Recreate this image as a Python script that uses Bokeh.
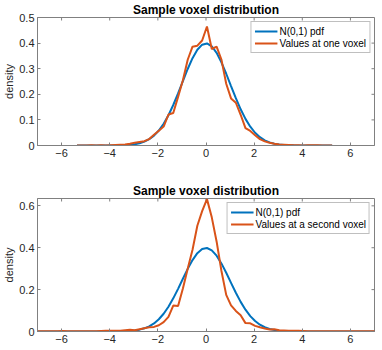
from bokeh.plotting import figure
from bokeh.layouts import column
from bokeh.models import FixedTicker, Legend, LegendItem
from bokeh.embed import file_html
from bokeh.resources import INLINE

# bin centres (shared grid)
x_all = [-7.16, -6.96, -6.76, -6.56, -6.36, -6.16, -5.96, -5.76, -5.56,
         -5.36, -5.16, -4.96, -4.76, -4.56, -4.36, -4.16, -3.96, -3.76, -3.56,
         -3.36, -3.16, -2.96, -2.76, -2.56, -2.36, -2.16, -1.96, -1.76, -1.56,
         -1.36, -1.16, -0.96, -0.76, -0.56, -0.36, -0.16, 0.04, 0.24, 0.44,
         0.64, 0.84, 1.04, 1.24, 1.44, 1.64, 1.84, 2.04, 2.24, 2.44, 2.64,
         2.84, 3.04, 3.24, 3.44, 3.64, 3.84, 4.04, 4.24, 4.44, 4.64, 4.84,
         5.04, 5.24, 5.44, 5.64, 5.84, 6.04, 6.24, 6.44, 6.64, 6.84, 7.04, 7.24]

# N(0,1) pdf read at the bin centres
pdf_all = [0.0, 0.0, 0.0, 0.0, 0.0, 0.0, 0.0, 0.0, 0.0,
           0.0, 0.0, 0.0, 0.0, 0.0, 0.0, 0.0001, 0.0002, 0.0003, 0.0007,
           0.0014, 0.0027, 0.0050, 0.0088, 0.0151, 0.0246, 0.0387, 0.0584, 0.0848, 0.1182,
           0.1582, 0.2036, 0.2516, 0.2989, 0.3411, 0.3739, 0.3939, 0.3986, 0.3876, 0.3621,
           0.3251, 0.2803, 0.2323, 0.1850, 0.1415, 0.1040, 0.0734, 0.0498, 0.0325, 0.0203, 0.0122,
           0.0071, 0.0039, 0.0021, 0.0011, 0.0005, 0.0003, 0.0001, 0.0, 0.0, 0.0, 0.0,
           0.0, 0.0, 0.0, 0.0, 0.0, 0.0, 0.0, 0.0, 0.0, 0.0, 0.0, 0.0]

# top panel: one voxel (bins -5.36 .. 5.24)
voxel1 = [0.000, 0.000, 0.000, 0.001, 0.000, 0.001, 0.000, 0.001, 0.002, 0.003,
          0.004, 0.007, 0.011, 0.014, 0.017, 0.025, 0.042, 0.058, 0.074, 0.121,
          0.127, 0.190, 0.255, 0.335, 0.386, 0.390, 0.410, 0.465, 0.377, 0.386,
          0.336, 0.241, 0.184, 0.167, 0.120, 0.068, 0.057, 0.040, 0.025, 0.016,
          0.011, 0.007, 0.004, 0.003, 0.002, 0.001, 0.001, 0.000, 0.001, 0.001,
          0.001, 0.000, 0.000, 0.000]

# bottom panel: second voxel (all bins)
voxel2 = [0.001, 0.001, 0.001, 0.001, 0.001, 0.001, 0.002, 0.001, 0.001,
          0.001, 0.001, 0.001, 0.001, 0.001, 0.002, 0.003, 0.003, 0.003, 0.004,
          0.006, 0.008, 0.006, 0.011, 0.016, 0.020, 0.022, 0.030, 0.045, 0.070,
          0.124, 0.122, 0.205, 0.300, 0.390, 0.505, 0.575, 0.632, 0.545, 0.430,
          0.290, 0.175, 0.125, 0.098, 0.078, 0.040, 0.039, 0.027, 0.020, 0.014, 0.010,
          0.011, 0.006, 0.005, 0.004, 0.003, 0.003, 0.002, 0.001, 0.001, 0.001, 0.001,
          0.001, 0.001, 0.001, 0.001, 0.001, 0.001, 0.001, 0.001, 0.001, 0.001, 0.001, 0.001]

x_top = x_all[9:63]
pdf_top = pdf_all[9:63]

x_ticks = [-6, -4, -2, 0, 2, 4, 6]
y_ticks_top = [0, 0.1, 0.2, 0.3, 0.4, 0.5]
y_ticks_bot = [0, 0.2, 0.4, 0.6]
X_MIN, X_MAX = -7, 7

title_text = "Sample voxel distribution"
legend_labels_top = ["N(0,1) pdf", "Values at one voxel"]
legend_labels_bot = ["N(0,1) pdf", "Values at a second voxel"]

BLUE = "#0072BD"
ORANGE = "#D95319"
AX = "#808080"
TXT = "#262626"
FONT = "Liberation Sans"
TICK = 3
FW = 337


def style_axis(ax, ticks):
    ax.ticker = FixedTicker(ticks=ticks)
    ax.axis_line_color = AX
    ax.major_tick_line_color = AX
    ax.major_tick_in = TICK
    ax.major_tick_out = 0
    ax.minor_tick_line_color = None
    ax.major_label_text_font = FONT
    ax.major_label_text_color = TXT
    ax.major_label_text_font_size = "11px"
    ax.major_label_standoff = 3


def make_panel(xs_pdf, ys_pdf, xs_v, ys_v, ytop, yticks, labels,
               fh, top_border, bottom_border):
    p = figure(frame_width=FW, frame_height=fh,
               x_range=(X_MIN, X_MAX), y_range=(0, ytop),
               output_backend="svg", toolbar_location=None,
               min_border_left=30, min_border_right=3,
               min_border_top=top_border, min_border_bottom=bottom_border)
    p.title.text = title_text
    p.title.align = "center"
    p.title.text_font = FONT
    p.title.text_font_size = "12px"
    p.title.text_font_style = "bold"
    p.title.text_color = "#000000"
    p.title.standoff = 1
    p.grid.visible = False
    p.outline_line_color = AX
    p.background_fill_color = "white"
    p.border_fill_color = "white"

    style_axis(p.xaxis[0], x_ticks)
    style_axis(p.yaxis[0], yticks)
    p.yaxis[0].major_label_overrides = {0: "0"}
    p.yaxis[0].axis_label = "density"
    p.yaxis[0].axis_label_text_font = FONT
    p.yaxis[0].axis_label_text_font_size = "11px"
    p.yaxis[0].axis_label_text_font_style = "normal"
    p.yaxis[0].axis_label_text_color = TXT
    p.yaxis[0].axis_label_standoff = 1

    # mirrored (box) ticks on top and right edges
    dy = ytop * TICK / fh
    dx = (X_MAX - X_MIN) * TICK / FW
    p.segment(x0=x_ticks, y0=[ytop] * len(x_ticks), x1=x_ticks,
              y1=[ytop - dy] * len(x_ticks), line_color=AX, line_width=1)
    p.segment(x0=[X_MAX] * len(yticks), y0=yticks, x1=[X_MAX - dx] * len(yticks),
              y1=yticks, line_color=AX, line_width=1)

    r1 = p.line(xs_pdf, ys_pdf, line_width=2, color=BLUE)
    r2 = p.line(xs_v, ys_v, line_width=2, color=ORANGE)

    leg = Legend(items=[LegendItem(label=labels[0], renderers=[r1]),
                        LegendItem(label=labels[1], renderers=[r2])])
    leg.location = "top_right"
    leg.margin = 4
    leg.padding = 3
    leg.spacing = 0
    leg.glyph_width = 23
    leg.glyph_height = 12
    leg.label_height = 12
    leg.label_standoff = 2
    leg.label_text_font = FONT
    leg.label_text_font_size = "10px"
    leg.label_text_color = "#000000"
    leg.border_line_color = AX
    leg.background_fill_alpha = 1
    p.add_layout(leg, "center")
    return p


p1 = make_panel(x_top, pdf_top, x_top, voxel1, 0.5, y_ticks_top,
                legend_labels_top, 128, 13, 36)
p2 = make_panel(x_all, pdf_all, x_all, voxel2, 0.635, y_ticks_bot,
                legend_labels_bot, 133, 13, 19)

layout = column(p1, p2, spacing=0)
open("out.html", "w").write(file_html(layout, INLINE))
